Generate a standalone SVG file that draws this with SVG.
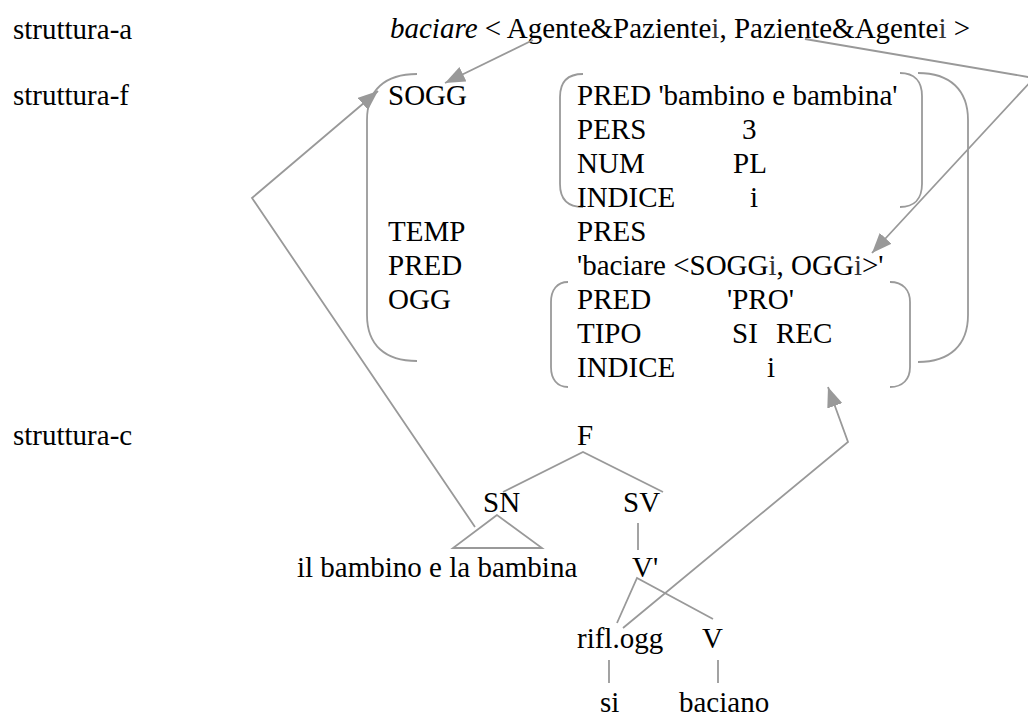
<svg xmlns="http://www.w3.org/2000/svg" width="1028" height="712" viewBox="0 0 1028 712">
  <style>
    text { font-family: "Liberation Serif", "Times New Roman", serif; font-size: 29px; fill: #000; }
    .it { font-style: italic; }
    .sub { fill: #333; }
    .ln { fill: none; stroke: #999; stroke-width: 1.8; }
    .br { fill: none; stroke: #9a9a9a; stroke-width: 1.8; }
    .ar { fill: none; stroke: #999; stroke-width: 1.8; marker-end: url(#ah); }
  </style>
  <defs>
    <marker id="ah" viewBox="0 0 20 16" refX="20" refY="8" markerWidth="20" markerHeight="16" markerUnits="userSpaceOnUse" orient="auto">
      <path d="M0,0 L20,8 L0,16 z" fill="#999"/>
    </marker>
  </defs>
  <rect width="1028" height="712" fill="#fff"/>

  <!-- level labels -->
  <g id="labels">
    <text x="13" y="39">struttura-a</text>
    <text x="13" y="105">struttura-f</text>
    <text x="13" y="445">struttura-c</text>
  </g>

  <!-- argument structure -->
  <g id="a-structure">
    <text x="390" y="38"><tspan class="it">baciare</tspan> &lt; Agente&amp;Paziente<tspan class="sub">i</tspan>, Paziente&amp;Agente<tspan class="sub">i</tspan> &gt;</text>
  </g>

  <!-- functional structure -->
  <g id="f-structure">
    <path class="br" d="M417,74 C385,74 367,90 367,120 L367,315 C367,345 385,361 417,361"/>
    <path class="br" d="M918,73 C950,73 968,90 968,120 L968,315 C968,345 950,362 918,362"/>
    <text x="388" y="105">SOGG</text>
    <text x="388" y="241">TEMP</text>
    <text x="388" y="275">PRED</text>
    <text x="388" y="309">OGG</text>
    <text x="577" y="241">PRES</text>
    <text x="577" y="275">'baciare &lt;SOGG<tspan class="sub">i</tspan>, OGG<tspan class="sub">i</tspan>&gt;'</text>
  </g>

  <g id="f-subj">
    <path class="br" d="M583,74 C568,74 560,82 560,97 L560,184 C560,199 568,207 583,207"/>
    <path class="br" d="M900,73 C914,73 922,81 922,96 L922,184 C922,199 914,207 900,207"/>
    <text x="577" y="105">PRED 'bambino e bambina'</text>
    <text x="577" y="139">PERS</text>
    <text x="742" y="139">3</text>
    <text x="577" y="173">NUM</text>
    <text x="733" y="173">PL</text>
    <text x="577" y="207">INDICE</text>
    <text x="750" y="207">i</text>
  </g>

  <g id="f-obj">
    <path class="br" d="M568,282 C557,282 551,290 551,302 L551,367 C551,379 557,387 568,387"/>
    <path class="br" d="M890,282 C903,282 910,290 910,302 L910,367 C910,379 903,387 890,387"/>
    <text x="577" y="309">PRED</text>
    <text x="727" y="309">'PRO'</text>
    <text x="577" y="343">TIPO</text>
    <text x="732" y="343">SI</text>
    <text x="776" y="343">REC</text>
    <text x="577" y="377">INDICE</text>
    <text x="767" y="377">i</text>
  </g>

  <!-- constituent structure -->
  <g id="c-structure">
    <text x="577" y="445">F</text>
    <path class="ln" d="M503,492 L583,452 L663,492"/>
    <text x="483" y="512">SN</text>
    <text x="623" y="512">SV</text>
    <path class="ln" d="M497,515 L453,548 L542,548 Z"/>
    <path class="ln" d="M638,523 L638,550"/>
    <text x="297" y="577">il bambino e la bambina</text>
    <text x="632" y="577">V'</text>
    <path class="ln" d="M617,623 L637,578 L713,619"/>
    <text x="577" y="648">rifl.ogg</text>
    <text x="702" y="648">V</text>
    <path class="ln" d="M609,660 L609,683 M718,660 L718,683"/>
    <text x="600" y="712">si</text>
    <text x="679" y="712">baciano</text>
  </g>

  <!-- links between levels -->
  <g id="connectors">
    <path class="ar" d="M533,40 L445,83"/>
    <path class="ar" d="M805,39 L1034,78 L872,253"/>
    <path class="ar" d="M475,527 L252,198 L378,91"/>
    <path class="ar" d="M623,628 L848,442 L828,387"/>
  </g>
</svg>
